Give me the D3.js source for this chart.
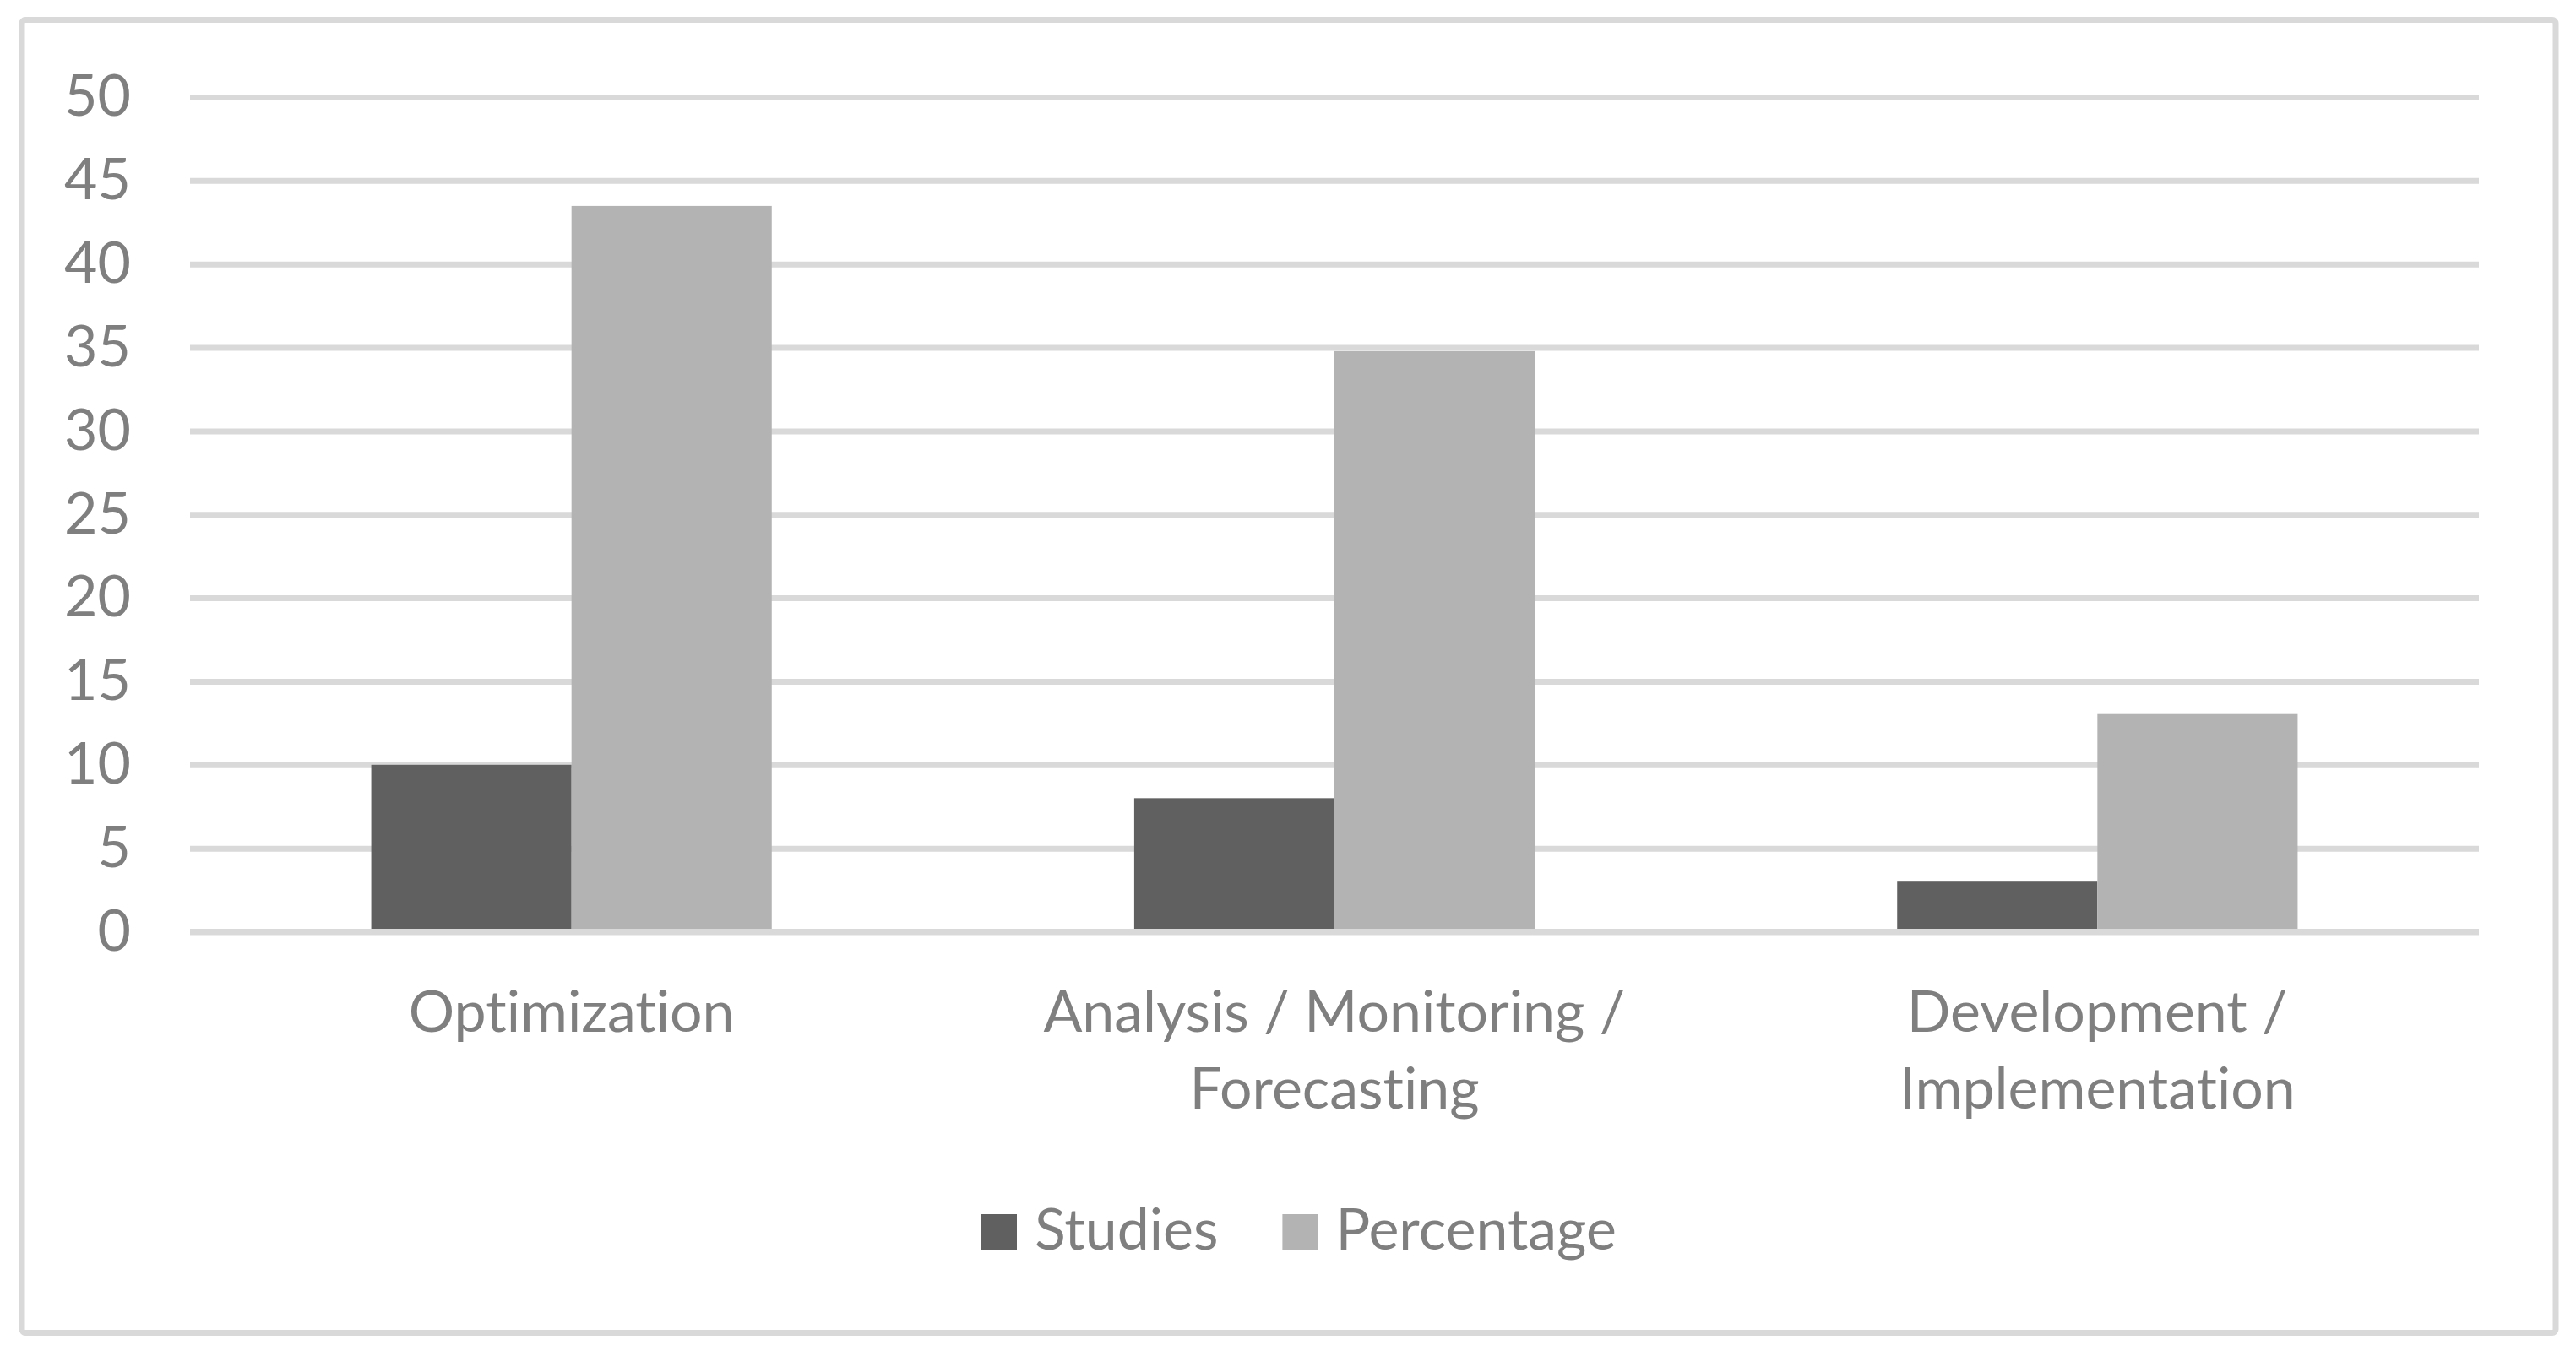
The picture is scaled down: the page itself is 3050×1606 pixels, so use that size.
<!DOCTYPE html>
<html>
<head>
<meta charset="utf-8">
<script src="https://cdn.jsdelivr.net/npm/d3@7"></script>
<style>
  body { margin: 0; background: #fff; }
  text { font-family: Lato, "Open Sans", sans-serif; fill: #7f7f7f; font-variant-ligatures: none; font-feature-settings: "liga" 0, "clig" 0; }
</style>
</head>
<body>
<script>
// data

const categories = ["Optimization", "Analysis / Monitoring / Forecasting", "Development / Implementation"]
// how the category labels wrap under the axis
const categoryLines = [
  ["Optimization"],
  ["Analysis / Monitoring /", "Forecasting"],
  ["Development /", "Implementation"]
]
const seriesNames = ["Studies", "Percentage"]
const studies = [10, 8, 3]
const percentage = [43.48, 34.78, 13.04]
const yTicks = [0, 5, 10, 15, 20, 25, 30, 35, 40, 45, 50]

const colors = { Studies: "#606060", Percentage: "#b3b3b3" }

const rows = categories.map((c, i) => ({ category: c, Studies: studies[i], Percentage: percentage[i] }))

// layout

const W = 3050, H = 1606
const margin = { top: 115, right: 115, bottom: 502.5, left: 225 }
const width = W - margin.left - margin.right
const height = H - margin.top - margin.bottom

const svg = d3.select("body").append("svg")
  .attr("width", W)
  .attr("height", H)

// chart area border
svg.append("rect")
  .attr("x", 26)
  .attr("y", 23.5)
  .attr("width", 3000)
  .attr("height", 1555)
  .attr("rx", 4)
  .attr("fill", "#fff")
  .attr("stroke", "#d9d9d9")
  .attr("stroke-width", 7)

const g = svg.append("g")
  .attr("transform", "translate(" + margin.left + "," + margin.top + ")")

const x0 = d3.scaleBand()
  .domain(categories)
  .range([0, width])
  .padding(0)

// gap width ~181% like the excel chart
const x1 = d3.scaleBand()
  .domain(seriesNames)
  .range([0, x0.bandwidth()])
  .paddingInner(0)
  .paddingOuter(0.905)

const y = d3.scaleLinear()
  .domain([0, 50])
  .range([height, 0])

// y axis + gridlines
const yAxis = d3.axisLeft(y)
  .tickValues(yTicks)
  .tickSize(-width)
  .tickPadding(70)

g.append("g")
  .attr("class", "y axis")
  .call(yAxis)
  .call(a => a.select(".domain").remove())
  .call(a => a.selectAll(".tick line")
    .attr("stroke", "#d9d9d9")
    .attr("stroke-width", 7))
  .call(a => a.selectAll(".tick text")
    .attr("fill", "#7f7f7f")
    .attr("font-size", 68)
    .attr("font-family", "Lato"))

// bars
g.selectAll(".group")
  .data(rows)
  .enter().append("g")
    .attr("class", "group")
    .attr("transform", d => "translate(" + x0(d.category) + ",0)")
  .selectAll("rect")
  .data(d => seriesNames.map(k => ({ key: k, value: d[k] })))
  .enter().append("rect")
    .attr("x", d => x1(d.key))
    .attr("width", x1.bandwidth())
    .attr("y", d => y(d.value))
    .attr("height", d => height - y(d.value))
    .attr("fill", d => colors[d.key])

// x axis (zero line drawn over the bars)
const xAxis = d3.axisBottom(x0)
  .tickSize(0)

const xg = g.append("g")
  .attr("class", "x axis")
  .attr("transform", "translate(0," + height + ")")
  .call(xAxis)

xg.select(".domain")
  .attr("stroke", "#d9d9d9")
  .attr("stroke-width", 7)
  .attr("d", "M0,0H" + width)

xg.selectAll(".tick text")
  .attr("fill", "#7f7f7f")
  .attr("font-size", 68)
  .attr("font-family", "Lato")
  .attr("y", 118.5)
  .attr("dy", null)
  .text(null)
  .each(function (d) {
    const lines = categoryLines[categories.indexOf(d)]
    d3.select(this).selectAll("tspan")
      .data(lines)
      .enter().append("tspan")
        .attr("x", 0)
        .attr("dy", (l, i) => i === 0 ? 0 : 91)
        .text(l => l)
  })

// legend
const legend = svg.append("g").attr("class", "legend")
let lx = 1162
seriesNames.forEach(name => {
  legend.append("rect")
    .attr("x", lx)
    .attr("y", 1438)
    .attr("width", 42)
    .attr("height", 42)
    .attr("fill", colors[name])
  const t = legend.append("text")
    .attr("x", lx + 63)
    .attr("y", 1480)
    .attr("font-size", 68)
    .text(name)
  lx += 63 + t.node().getComputedTextLength() + 76
})
</script>
</body>
</html>
